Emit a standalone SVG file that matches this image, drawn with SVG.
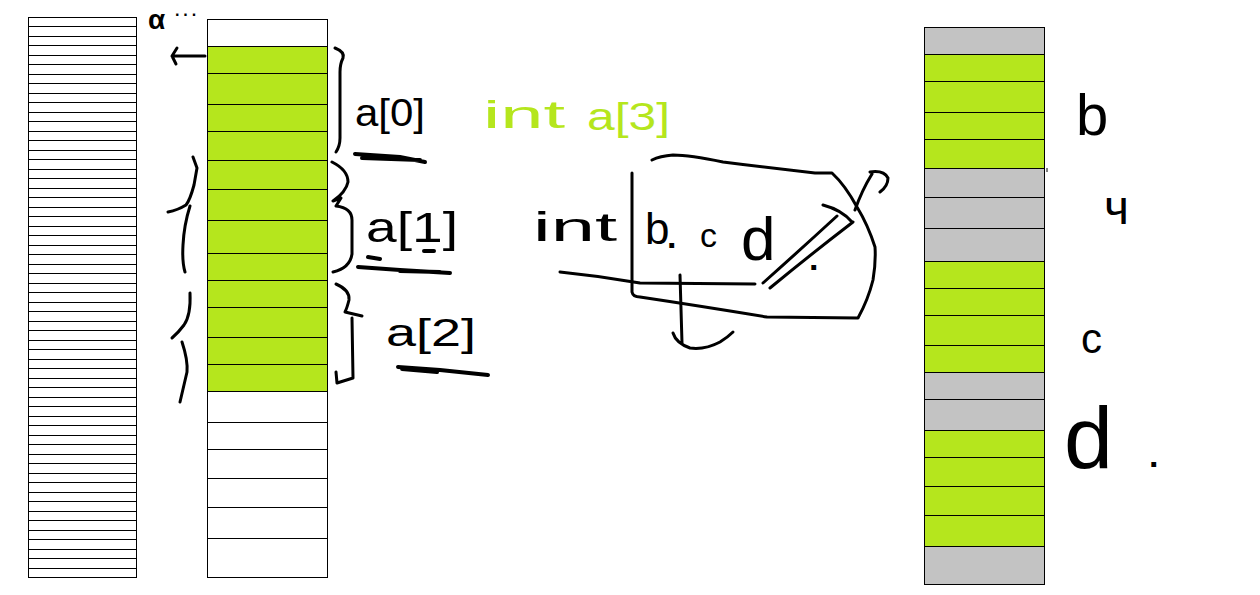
<svg xmlns="http://www.w3.org/2000/svg" width="1260" height="595" viewBox="0 0 1260 595">
<style>
.cell{stroke:#000;stroke-width:1;}
.g{fill:#B5E61D;}
.w{fill:#fff;}
.gr{fill:#C3C3C3;}
.ln{stroke:#000;stroke-width:1;fill:none;}
.ink{stroke:#000;stroke-width:3;fill:none;stroke-linecap:round;stroke-linejoin:round;}
.thick{stroke:#000;stroke-width:4;fill:none;stroke-linecap:round;}
.t{font-family:"Liberation Sans",Arial,sans-serif;fill:#000;}
.tg{font-family:"Liberation Sans",Arial,sans-serif;fill:#B5E61D;}
.dot{font-family:"Liberation Sans",Arial,sans-serif;fill:#000;font-weight:bold;font-size:34px;}
</style>
<rect width="1260" height="595" fill="#fff"/>
<g id="memory-left">
<rect x="28.5" y="17.5" width="108" height="560" class="cell w"/>
<path class="ln" d="M28.5,26.5H136.5M28.5,36.5H136.5M28.5,45.5H136.5M28.5,55.5H136.5M28.5,64.5H136.5M28.5,74.5H136.5M28.5,83.5H136.5M28.5,93.5H136.5M28.5,102.5H136.5M28.5,112.5H136.5M28.5,121.5H136.5M28.5,131.5H136.5M28.5,140.5H136.5M28.5,150.5H136.5M28.5,159.5H136.5M28.5,169.5H136.5M28.5,178.5H136.5M28.5,188.5H136.5M28.5,197.5H136.5M28.5,207.5H136.5M28.5,216.5H136.5M28.5,226.5H136.5M28.5,235.5H136.5M28.5,245.5H136.5M28.5,254.5H136.5M28.5,264.5H136.5M28.5,273.5H136.5M28.5,283.5H136.5M28.5,292.5H136.5M28.5,302.5H136.5M28.5,311.5H136.5M28.5,321.5H136.5M28.5,330.5H136.5M28.5,340.5H136.5M28.5,349.5H136.5M28.5,359.5H136.5M28.5,368.5H136.5M28.5,378.5H136.5M28.5,387.5H136.5M28.5,397.5H136.5M28.5,406.5H136.5M28.5,416.5H136.5M28.5,425.5H136.5M28.5,435.5H136.5M28.5,444.5H136.5M28.5,454.5H136.5M28.5,463.5H136.5M28.5,473.5H136.5M28.5,482.5H136.5M28.5,492.5H136.5M28.5,501.5H136.5M28.5,511.5H136.5M28.5,520.5H136.5M28.5,530.5H136.5M28.5,539.5H136.5M28.5,549.5H136.5M28.5,558.5H136.5M28.5,568.5H136.5"/>
</g>
<g id="memory-middle">
<rect x="207.5" y="19.5" width="120" height="27" class="cell w"/>
<rect x="207.5" y="46.5" width="120" height="345" class="cell g"/>
<rect x="207.5" y="391.5" width="120" height="186" class="cell w"/>
<path class="ln" d="M207.5,73.5H327.5M207.5,104.5H327.5M207.5,131.5H327.5M207.5,160.5H327.5M207.5,189.5H327.5M207.5,220.5H327.5M207.5,253.5H327.5M207.5,280.5H327.5M207.5,307.5H327.5M207.5,337.5H327.5M207.5,364.5H327.5M207.5,422.5H327.5M207.5,449.5H327.5M207.5,478.5H327.5M207.5,507.5H327.5M207.5,538.5H327.5"/>
</g>
<g id="memory-right">
<rect x="924.5" y="27.5" width="120" height="27" class="cell gr"/>
<rect x="924.5" y="54.5" width="120" height="114" class="cell g"/>
<rect x="924.5" y="168.5" width="120" height="93" class="cell gr"/>
<rect x="924.5" y="261.5" width="120" height="111" class="cell g"/>
<rect x="924.5" y="372.5" width="120" height="58" class="cell gr"/>
<rect x="924.5" y="430.5" width="120" height="116" class="cell g"/>
<rect x="924.5" y="546.5" width="120" height="38" class="cell gr"/>
<path class="ln" d="M924.5,81.5H1044.5M924.5,112.5H1044.5M924.5,139.5H1044.5M924.5,197.5H1044.5M924.5,228.5H1044.5M924.5,288.5H1044.5M924.5,315.5H1044.5M924.5,345.5H1044.5M924.5,399.5H1044.5M924.5,457.5H1044.5M924.5,486.5H1044.5M924.5,515.5H1044.5"/>
<path class="ln" d="M1047,168V172"/>
</g>
<g id="connectors">
<path class="ink" d="M205,56L172,56M177,48L172,56L176,64"/>
<path class="ink" d="M335,48Q345,52 343,58Q340,64 340,72L340,138Q340,146 336,152"/>
<path class="thick" d="M355,154L400,157L425,162M362,158L420,160"/>
<path class="ink" d="M332,162Q348,170 348,182Q346,192 333,201L341,198L336,206Q352,208 352,220L352,254Q350,268 333,272"/>
<path class="thick" d="M358,267L400,270L450,273M400,271L440,272"/>
<path class="thick" d="M368,257L380,259M424,251L434,251"/>
<path class="ink" d="M336,284Q350,290 349,300Q347,308 345,312L362,316M352,318L353,378L337,383L336,372"/>
<path class="thick" d="M398,367L440,370L488,375M402,369L437,372"/>
<path class="ink" d="M193,157L197,168L194,185Q190,200 186,205Q178,210 168,212M190,206Q184,225 183,245Q182,262 185,272"/>
<path class="ink" d="M190,293Q191,315 184,325Q178,333 172,338M182,342Q188,360 187,372Q184,385 180,402"/>
<path class="ink" d="M632,173L632,292Q633,297 640,297Q700,306 767,317L858,318Q868,300 873,280Q876,262 875,247Q868,225 857,207Q845,185 832,173L815,173Q770,168 723,162Q690,155 673,155Q660,156 652,160"/>
<path class="ink" d="M560,272Q600,276 640,283L755,284"/>
<path class="ink" d="M680,275L682,343M673,333Q676,343 690,348Q705,350 720,342Q728,337 733,332"/>
<path class="ink" d="M763,283Q800,250 837,216M770,288Q810,255 853,222M823,205Q842,210 852,222M855,210Q862,190 872,174M870,172Q884,170 888,178Q888,186 880,192"/>
</g>
<g id="labels">
<text class="t" x="148" y="29" font-size="28" font-weight="bold">α</text>
<text class="t" x="175" y="20" font-size="16" font-weight="bold" textLength="22" lengthAdjust="spacing">···</text>
<text class="t" x="355" y="126" font-size="38" textLength="70" lengthAdjust="spacingAndGlyphs">a[0]</text>
<text class="tg" x="483" y="128" font-size="38" textLength="82" lengthAdjust="spacingAndGlyphs">int</text>
<text class="tg" x="587" y="130" font-size="38" textLength="83" lengthAdjust="spacingAndGlyphs">a[3]</text>
<text class="t" x="366" y="242" font-size="42" textLength="92" lengthAdjust="spacingAndGlyphs">a[1]</text>
<text class="t" x="386" y="346" font-size="38" textLength="90" lengthAdjust="spacingAndGlyphs">a[2]</text>
<text class="t" x="533" y="241" font-size="40" textLength="84" lengthAdjust="spacingAndGlyphs">int</text>
<text class="t" x="645" y="244" font-size="44">b</text>
<text class="dot" x="667" y="248">.</text>
<text class="t" x="700" y="247" font-size="34">c</text>
<text class="t" x="741" y="260" font-size="62">d</text>
<text class="dot" x="809" y="270">.</text>
<text class="t" x="1076" y="135" font-size="58">b</text>
<text class="t" x="1104" y="224" font-size="48">ч</text>
<text class="t" x="1081" y="353" font-size="42">c</text>
<text class="t" x="1064" y="468" font-size="88">d</text>
<text class="dot" x="1149" y="467">.</text>
</g>
</svg>
